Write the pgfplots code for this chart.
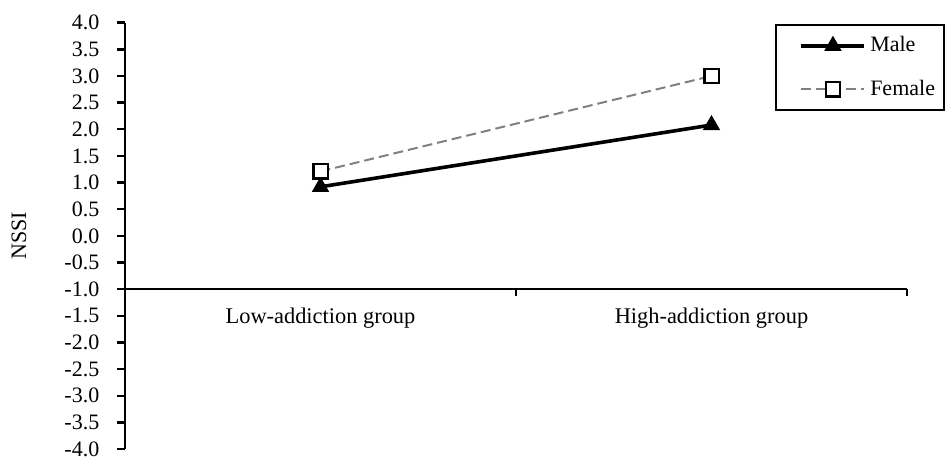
\documentclass[border=0pt]{standalone}
\usepackage{fontspec}
\setmainfont{Liberation Serif}
\usepackage{pgfplots}
\pgfplotsset{compat=1.18}
\begin{document}
\fontsize{11}{13}\selectfont
\begin{tikzpicture}
\begin{axis}[
  scale only axis, width=391pt, height=213.15pt,
  xmin=-0.5, xmax=1.5, ymin=-4, ymax=4,
  axis x line=bottom, axis y line=left,
  axis line style={-, line width=1.2pt},
  axis x line shift=-79.93pt,
  /pgf/number format/assume math mode=true,
  ytick={-4,-3.5,-3,-2.5,-2,-1.5,-1,-0.5,0,0.5,1,1.5,2,2.5,3,3.5,4},
  yticklabel style={/pgf/number format/.cd, fixed, fixed zerofill, precision=1, /tikz/.cd, xshift=-5pt},
  xticklabel style={yshift=-1.5pt, font=\fontsize{11.2}{13}\selectfont},
  tick align=outside,
  major tick length=4pt, minor tick length=3.5pt,
  tick style={black, line width=1.2pt},
  xtick={0,1}, xticklabels={Low-addiction group, High-addiction group},
  major x tick style={draw=none},
  minor xtick={-0.5,0.5,1.5},
  ylabel={NSSI},
  ylabel style={at={(rel axis cs:-0.1355,0.5)}, anchor=center},
  legend style={at={(rel axis cs:1.0486,0.997)}, anchor=north east, draw=black, line width=1pt,
    inner xsep=2.5pt, inner ysep=3.75pt, row sep=8.5pt, cells={anchor=west}, font=\fontsize{11}{13}\selectfont},
  legend image code/.code={\draw[draw=none] (0pt,0pt) -- (10pt,0pt); \draw[mark repeat=2,mark phase=2,#1] plot coordinates {(10pt,0pt) (25.75pt,0pt) (41.5pt,0pt)};},
]
\addplot[black, line width=1.8pt, mark=triangle*, mark size=4.6pt, mark options={solid, fill=black, line width=0.4pt}] coordinates {(0,0.92) (1,2.08)};
\addlegendentry{Male}
\addplot[gray, dash pattern=on 5pt off 2.5pt, line width=1pt, mark=square*, mark size=3.6pt, mark options={solid, draw=black, fill=white, line width=1.2pt}] coordinates {(0,1.21) (1,3.0)};
\addlegendentry{Female}
\coordinate (bl) at (rel axis cs:0,0);
\coordinate (tr) at (rel axis cs:1,1);
\end{axis}
\pgfresetboundingbox
\path ([shift={(-62.5pt,-5pt)}]bl) rectangle ([shift={(20pt,11.35pt)}]tr);
\end{tikzpicture}
\end{document}
